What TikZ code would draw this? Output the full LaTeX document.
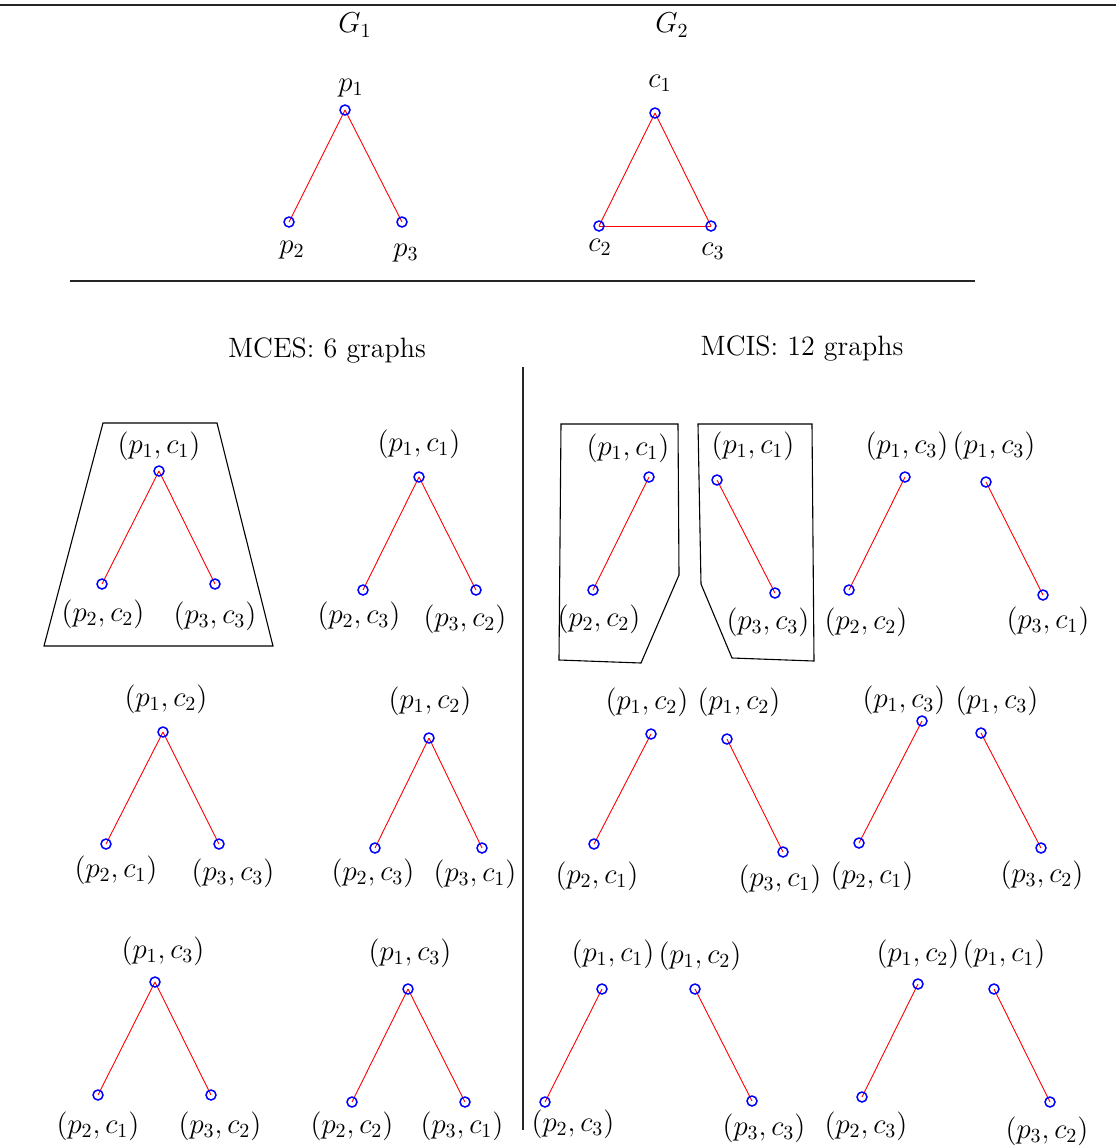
\documentclass[tikz,border=0pt]{standalone}
\usetikzlibrary{backgrounds}
\newcommand\V[4]{\node[vtx] (#1) at (#2) {}; \node[lbl] (#1l) at (#4) {#3};}
\newcommand\E[2]{\begin{scope}[on background layer]\draw[edge] (#1.center) -- (#2.center);\end{scope}}
\begin{document}
\begin{tikzpicture}[x=0.5pt,y=-0.5pt,
 vtx/.style={circle,draw=blue,line width=0.75pt,minimum size=5pt,inner sep=0pt},
 edge/.style={red,line width=0.45pt},
 lbl/.style={font=\fontsize{14}{17}\selectfont,inner sep=0pt},
 rulel/.style={line width=0.55pt,black!85},
 frame/.style={line width=0.55pt,black}]
\useasboundingbox (0,0) rectangle (1116,1147);
% rules
\coordinate (r1a) at (0,5); \coordinate (r1b) at (1116,5);
\coordinate (r2a) at (70,281); \coordinate (r2b) at (975,281);
\coordinate (vla) at (523,367); \coordinate (vlb) at (523,1130);
\draw[rulel] (r1a) -- (r1b);
\draw[rulel] (r2a) -- (r2b);
\draw[rulel] (vla) -- (vlb);
% titles
\node[lbl] (G1) at (355,25) {$G_1$};
\node[lbl] (G2) at (672,25) {$G_2$};
\node[lbl] (mces) at (327,351) {MCES: 6 graphs};
\node[lbl] (mcis) at (802,349) {MCIS: 12 graphs};
% G1, G2
\V{p1}{345,110}{$p_1$}{351,88}
\V{p2}{289,222}{$p_2$}{292,250}
\V{p3}{402,222}{$p_3$}{406,253}
\E{p1}{p2}\E{p1}{p3}
\V{c1}{655,113}{$c_1$}{660,83}
\V{c2}{599,226}{$c_2$}{600,247}
\V{c3}{711,226}{$c_3$}{713,251}
\E{c1}{c2}\E{c1}{c3}\E{c2}{c3}
% MCES
\V{at}{159,471}{$(p_1,c_1)$}{159,446}
\V{al}{102,584}{$(p_2,c_2)$}{103,614}
\V{ar}{215,584}{$(p_3,c_3)$}{215,616}
\E{at}{al}\E{at}{ar}
\V{bt}{419,477}{$(p_1,c_1)$}{419,444}
\V{bl}{363,590}{$(p_2,c_3)$}{359,616}
\V{br}{476,590}{$(p_3,c_2)$}{465,619}
\E{bt}{bl}\E{bt}{br}
\V{ct}{163,732}{$(p_1,c_2)$}{166,699}
\V{cl}{106,844}{$(p_2,c_1)$}{116,870}
\V{cr}{219,844}{$(p_3,c_3)$}{233,873}
\E{ct}{cl}\E{ct}{cr}
\V{dt}{429,738}{$(p_1,c_2)$}{430,701}
\V{dl}{375,848}{$(p_2,c_3)$}{373,873}
\V{dr}{482,848}{$(p_3,c_1)$}{475,874}
\E{dt}{dl}\E{dt}{dr}
\V{et}{155,982}{$(p_1,c_3)$}{163,951}
\V{el}{98,1095}{$(p_2,c_1)$}{98,1126}
\V{er}{211,1095}{$(p_3,c_2)$}{220,1126}
\E{et}{el}\E{et}{er}
\V{ft}{408,989}{$(p_1,c_3)$}{410,953}
\V{fl}{352,1102}{$(p_2,c_2)$}{352,1126}
\V{fr}{465,1102}{$(p_3,c_1)$}{462,1126}
\E{ft}{fl}\E{ft}{fr}
% MCIS
\V{g1t}{649,477}{$(p_1,c_1)$}{628,448}
\V{g1b}{593,590}{$(p_2,c_2)$}{599,619}
\E{g1t}{g1b}
\V{g2t}{717,480}{$(p_1,c_1)$}{753,446}
\V{g2b}{775,593}{$(p_3,c_3)$}{768,622}
\E{g2t}{g2b}
\V{g3t}{905,477}{$(p_1,c_3)$}{907,446}
\V{g3b}{849,590}{$(p_2,c_2)$}{866,622}
\E{g3t}{g3b}
\V{g4t}{986,482}{$(p_1,c_3)$}{994,446}
\V{g4b}{1043,595}{$(p_3,c_1)$}{1048,621}
\E{g4t}{g4b}
\V{h1t}{651,734}{$(p_1,c_2)$}{647,702}
\V{h1b}{594,844}{$(p_2,c_1)$}{597,876}
\E{h1t}{h1b}
\V{h2t}{727,739}{$(p_1,c_2)$}{739,702}
\V{h2b}{783,852}{$(p_3,c_1)$}{780,879}
\E{h2t}{h2b}
\V{h3t}{922,721}{$(p_1,c_3)$}{904,700}
\V{h3b}{859,843}{$(p_2,c_1)$}{872,876}
\E{h3t}{h3b}
\V{h4t}{981,733}{$(p_1,c_3)$}{997,701}
\V{h4b}{1041,848}{$(p_3,c_2)$}{1042,875}
\E{h4t}{h4b}
\V{k1t}{602,989}{$(p_1,c_1)$}{613,954}
\V{k1b}{545,1102}{$(p_2,c_3)$}{573,1124}
\E{k1t}{k1b}
\V{k2t}{695,989}{$(p_1,c_2)$}{700,956}
\V{k2b}{752,1101}{$(p_3,c_3)$}{764,1128}
\E{k2t}{k2b}
\V{k3t}{918,984}{$(p_1,c_2)$}{918,954}
\V{k3b}{862,1097}{$(p_2,c_3)$}{866,1126}
\E{k3t}{k3b}
\V{k4t}{994,989}{$(p_1,c_1)$}{1004,954}
\V{k4b}{1050,1102}{$(p_3,c_2)$}{1047,1131}
\E{k4t}{k4b}
% frames
\draw[frame] (103,423) -- (217,423) -- (273,646) -- (44,646) -- cycle;
\draw[frame] (561,424) -- (678,424) -- (679,575) -- (641,663) -- (559,660) -- cycle;
\draw[frame] (698,424) -- (812,424) -- (814,661) -- (732,658) -- (701,584) -- cycle;
\end{tikzpicture}
\end{document}
